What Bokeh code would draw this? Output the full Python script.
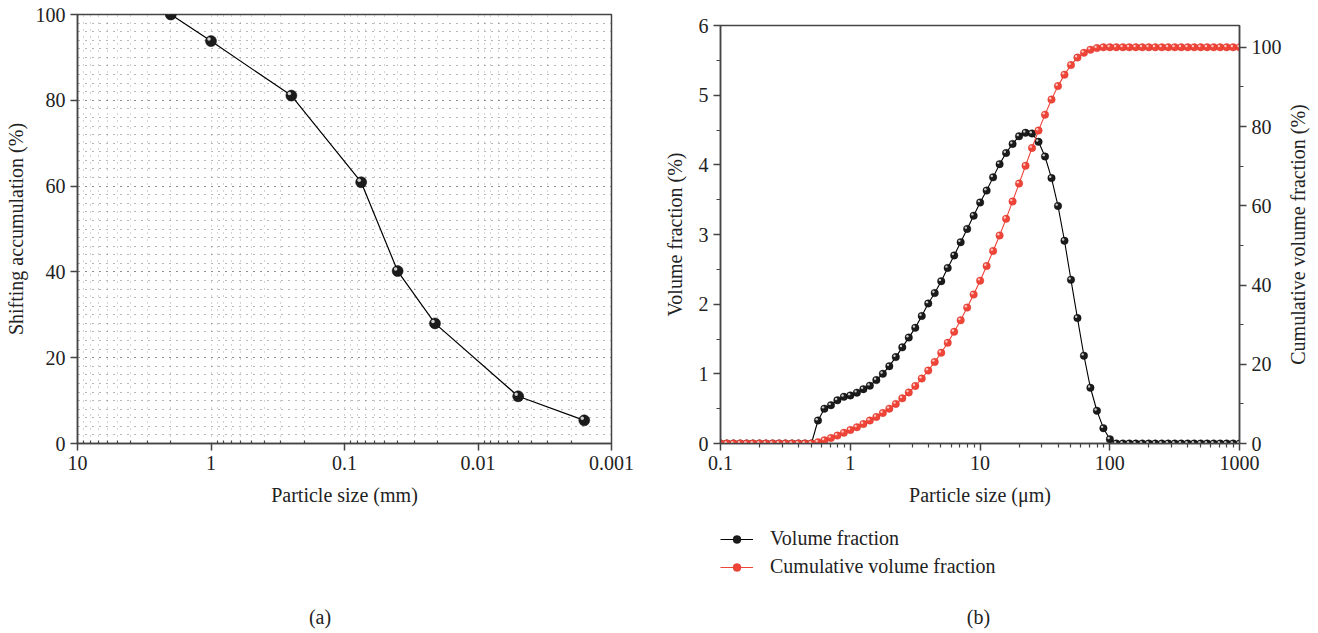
import math
from bokeh.plotting import figure
from bokeh.models import (Range1d, LinearAxis, SingleIntervalTicker, FixedTicker,
                          Legend, LegendItem, Div)
from bokeh.layouts import row, column
from bokeh.core.properties import value
from bokeh.embed import file_html
from bokeh.resources import INLINE

# ---------------- data: panel (a) ----------------
sieve_size_mm = [2, 1, 0.25, 0.075, 0.04, 0.021, 0.005, 0.0016]
passing_pct = [100, 93.8, 81.1, 60.9, 40.2, 28.0, 11.0, 5.4]
a_x_ticks = [10, 1, 0.1, 0.01, 0.001]
a_x_tick_labels = ["10", "1", "0.1", "0.01", "0.001"]

# ---------------- data: panel (b) ----------------
size_um = [0.100, 0.112, 0.126, 0.142, 0.159, 0.178, 0.200, 0.224, 0.252, 0.283,
           0.317, 0.356, 0.399, 0.448, 0.502, 0.564, 0.632, 0.710, 0.796, 0.893,
           1.002, 1.125, 1.262, 1.416, 1.589, 1.783, 2.000, 2.244, 2.518, 2.825,
           3.170, 3.557, 3.991, 4.477, 5.024, 5.637, 6.325, 7.096, 7.962, 8.934,
           10.024, 11.247, 12.619, 14.159, 15.887, 17.825, 20.000, 22.440, 25.179, 28.251,
           31.698, 35.566, 39.905, 44.774, 50.238, 56.368, 63.246, 70.963, 79.621, 89.337,
           100.237, 112.468, 126.191, 141.589, 158.866, 178.250, 200.000, 224.404, 251.785, 282.508,
           316.979, 355.656, 399.052, 447.744, 502.377, 563.677, 632.456, 709.627, 796.214, 893.367,
           1002.374]
volume_fraction = [0, 0, 0, 0, 0, 0, 0, 0, 0, 0,
                   0, 0, 0, 0, 0, 0.33, 0.50, 0.55, 0.62, 0.67,
                   0.69, 0.73, 0.78, 0.83, 0.91, 1.00, 1.11, 1.24, 1.38, 1.52,
                   1.66, 1.83, 2.01, 2.16, 2.33, 2.52, 2.70, 2.89, 3.08, 3.27,
                   3.46, 3.63, 3.82, 4.01, 4.17, 4.30, 4.41, 4.46, 4.45, 4.33,
                   4.12, 3.81, 3.41, 2.91, 2.35, 1.80, 1.26, 0.80, 0.47, 0.22,
                   0.06, 0, 0, 0, 0, 0, 0, 0, 0, 0,
                   0, 0, 0, 0, 0, 0, 0, 0, 0, 0,
                   0]
cumulative_fraction = [0, 0, 0, 0, 0, 0, 0, 0, 0, 0,
                       0, 0, 0, 0, 0, 0.3, 0.8, 1.4, 2.0, 2.7,
                       3.4, 4.1, 4.9, 5.8, 6.7, 7.7, 8.8, 10.0, 11.4, 12.9,
                       14.5, 16.4, 18.4, 20.6, 22.9, 25.4, 28.2, 31.1, 34.3, 37.6,
                       41.1, 44.8, 48.6, 52.5, 56.7, 61.1, 65.6, 70.1, 74.6, 79.0,
                       83.0, 86.8, 90.2, 93.1, 95.5, 97.4, 98.6, 99.4, 99.8, 100,
                       100, 100, 100, 100, 100, 100, 100, 100, 100, 100,
                       100, 100, 100, 100, 100, 100, 100, 100, 100, 100,
                       100]
b_x_ticks = [0.1, 1, 10, 100, 1000]
b_x_tick_labels = ["0.1", "1", "10", "100", "1000"]
legend_labels = ["Volume fraction", "Cumulative volume fraction"]
right_axis_title = "Cumulative volume fraction (%)"

FONT = "Liberation Serif"
FS = "20px"
AX = "#444444"
TXT = "#222222"
BLACK = "#1b1b1b"
RED = "#ef4438"
RED_EDGE = "#d8342a"


def style_axis(ax, out=7, minor_out=0, minor_in=0):
    ax.axis_line_color = AX
    ax.axis_line_width = 1.5
    ax.major_tick_line_color = AX
    ax.major_tick_line_width = 1.5
    ax.major_tick_out = out
    ax.major_tick_in = 0
    if minor_out or minor_in:
        ax.minor_tick_line_color = AX
        ax.minor_tick_line_width = 1.2
        ax.minor_tick_out = minor_out
        ax.minor_tick_in = minor_in
    else:
        ax.minor_tick_line_color = None
    ax.major_label_text_font = FONT
    ax.major_label_text_font_size = FS
    ax.major_label_text_color = TXT
    ax.axis_label_text_font = FONT
    ax.axis_label_text_font_size = FS
    ax.axis_label_text_font_style = "normal"
    ax.axis_label_text_color = TXT


def panel_tag(text, width, shift):
    return Div(text=("<div style=\"position:relative;left:%dpx;width:%dpx;text-align:center;"
                     "font-family:'Liberation Serif';font-size:20px;line-height:20px;"
                     "padding-top:12px;color:#222222;\">%s</div>") % (shift, width, text),
               width=width, height=38, margin=0)


# ================= panel (a) =================
pa = figure(width=659, height=595, x_axis_type="log", title=None,
            x_range=Range1d(10, 0.001), y_range=Range1d(0, 100),
            output_backend="svg", toolbar_location=None,
            min_border_left=77, min_border_right=48,
            min_border_top=14, min_border_bottom=152)
pa.outline_line_color = AX
pa.outline_line_width = 1.5
pa.background_fill_color = "white"

minor_a = [m * 10.0 ** e for e in range(-3, 1) for m in range(2, 10)]
pa.xaxis.ticker = FixedTicker(ticks=a_x_ticks, minor_ticks=minor_a)
pa.xaxis.major_label_overrides = dict(zip(a_x_ticks, a_x_tick_labels))
pa.yaxis.ticker = SingleIntervalTicker(interval=20, num_minor_ticks=10)
pa.xaxis.axis_label = "Particle size (mm)"
pa.yaxis.axis_label = "Shifting accumulation (%)"
style_axis(pa.xaxis[0], minor_in=3)
style_axis(pa.yaxis[0])
pa.xaxis.axis_label_standoff = 11
pa.yaxis.axis_label_standoff = 6

for g in (pa.xgrid, pa.ygrid):
    g.grid_line_color = "#555555"
    g.grid_line_dash = "1 6"
    g.grid_line_width = 1
    g.minor_grid_line_color = "#555555"
    g.minor_grid_line_dash = "1 6"
    g.minor_grid_line_width = 1
pa.xgrid.grid_line_alpha = 0.5
pa.xgrid.minor_grid_line_alpha = 0.5
pa.ygrid.grid_line_alpha = 0.85
pa.ygrid.minor_grid_line_alpha = 0.85

pa.line(sieve_size_mm, passing_pct, line_color="black", line_width=1.2)
pa.scatter(sieve_size_mm, passing_pct, size=11, fill_color=BLACK, line_color="black", line_width=0.5)
hl_ax = [x * 10 ** (2.0 / 133.4) for x in sieve_size_mm]
hl_ay = [y + 2.0 / 4.29 for y in passing_pct]
pa.scatter(hl_ax, hl_ay, size=3.5, fill_color="#e6e6e6", line_color=None, fill_alpha=0.9)

# ================= panel (b) =================
PB_W = 625
pb = figure(width=PB_W, height=515, x_axis_type="log", title=None,
            x_range=Range1d(0.1, 1000), y_range=Range1d(0, 6),
            output_backend="svg", toolbar_location=None,
            min_border_left=61, min_border_right=44,
            min_border_top=25, min_border_bottom=72)
pb.extra_y_ranges = {"cum": Range1d(0, 105.5)}
pb.outline_line_color = AX
pb.outline_line_width = 1.5
pb.xgrid.grid_line_color = None
pb.ygrid.grid_line_color = None

minor_b = [m * 10.0 ** e for e in range(-1, 3) for m in range(2, 10)]
pb.xaxis.ticker = FixedTicker(ticks=b_x_ticks, minor_ticks=minor_b)
pb.xaxis.major_label_overrides = dict(zip(b_x_ticks, b_x_tick_labels))
pb.yaxis.ticker = SingleIntervalTicker(interval=1, num_minor_ticks=2)
pb.xaxis.axis_label = "Particle size (\u03bcm)"
pb.yaxis.axis_label = "Volume fraction (%)"
style_axis(pb.xaxis[0], minor_out=4)
style_axis(pb.yaxis[0], minor_out=4)
pb.xaxis.axis_label_standoff = 11
pb.yaxis.axis_label_standoff = 10

rax = LinearAxis(y_range_name="cum", ticker=SingleIntervalTicker(interval=20, num_minor_ticks=2))
style_axis(rax, minor_out=4)
pb.add_layout(rax, "right")

pb.line(size_um, volume_fraction, line_color="black", line_width=1.1)
pb.scatter(size_um, volume_fraction, size=7.5, fill_color=BLACK, line_color="black", line_width=0.4)
hl_bx = [x * 10 ** (-1.3 / 130.0) for x in size_um]
pb.scatter(hl_bx, [y + 1.3 / 69.7 for y in volume_fraction], size=2.4,
           fill_color="#e0e0e0", line_color=None, fill_alpha=0.9)

pb.line(size_um, cumulative_fraction, line_color=RED, line_width=1.1, y_range_name="cum")
pb.scatter(size_um, cumulative_fraction, size=7.5, fill_color=RED, line_color=RED_EDGE,
           line_width=0.4, y_range_name="cum")
pb.scatter(hl_bx, [y + 1.3 / 3.965 for y in cumulative_fraction], size=2.4,
           fill_color="#ffd6d0", line_color=None, fill_alpha=0.9, y_range_name="cum")

# ---- legend strip below panel (b); its series lie outside its (empty) view ----
pl = figure(width=PB_W, height=80, title=None, x_range=Range1d(0, 1), y_range=Range1d(-3, -2),
            output_backend="svg", toolbar_location=None,
            x_axis_location=None, y_axis_location=None,
            min_border=0, min_border_left=0, min_border_right=0,
            min_border_top=0, min_border_bottom=0)
pl.outline_line_color = None
pl.xgrid.grid_line_color = None
pl.ygrid.grid_line_color = None
k1 = pl.line(size_um, volume_fraction, line_color="black", line_width=1.1)
k2 = pl.scatter(size_um, volume_fraction, size=7.5, fill_color=BLACK, line_color="black", line_width=0.4)
k3 = pl.line(size_um, cumulative_fraction, line_color=RED, line_width=1.1)
k4 = pl.scatter(size_um, cumulative_fraction, size=7.5, fill_color=RED, line_color=RED_EDGE, line_width=0.4)
legend = Legend(items=[LegendItem(label=legend_labels[0], renderers=[k1, k2]),
                       LegendItem(label=legend_labels[1], renderers=[k3, k4])],
                location=(0, 17), orientation="vertical")
legend.border_line_color = None
legend.background_fill_alpha = 0
legend.padding = 0
legend.margin = 0
legend.spacing = 5
legend.glyph_width = 33
legend.glyph_height = 20
legend.label_height = 20
legend.label_standoff = 17
legend.label_text_font = FONT
legend.label_text_font_size = FS
legend.label_text_color = TXT
pl.add_layout(legend)

# ---- right-axis title strip (reads bottom to top) ----
PR_W = 1318 - 659 - PB_W
pr = figure(width=PR_W, height=515, title=None, x_range=Range1d(0, 1), y_range=Range1d(0, 1),
            output_backend="svg", toolbar_location=None,
            x_axis_location=None, y_axis_location=None,
            min_border_left=0, min_border_right=0, min_border_top=25, min_border_bottom=72)
pr.outline_line_color = None
pr.xgrid.grid_line_color = None
pr.ygrid.grid_line_color = None
pr.text(x=[0.4], y=[0.5], text=[right_axis_title], angle=math.pi / 2,
        text_align="center", text_baseline="middle",
        text_font=value(FONT), text_font_size=value(FS), text_color=TXT)

layout = row(column(pa, panel_tag("(a)", 640, 0)),
             column(pb, pl, panel_tag("(b)", PB_W, 7)),
             pr)
open("out.html", "w").write(file_html(layout, INLINE))
